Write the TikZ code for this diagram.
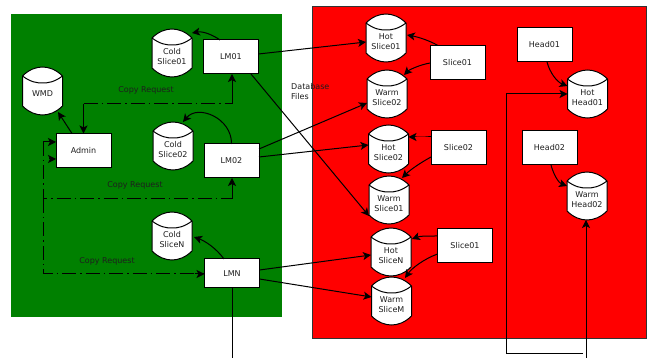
\documentclass[tikz,border=0pt]{standalone}
\usepackage{fontspec}
\setmainfont{DejaVu Sans}
\usetikzlibrary{arrows.meta}
\definecolor{zonegreen}{RGB}{0,128,0}
\definecolor{inkgray}{RGB}{30,30,30}
\tikzset{
  boxnode/.style={draw=black,fill=white,line width=1pt,minimum width=55pt,minimum height=34pt,inner sep=0pt,outer sep=0pt,font=\fontsize{8}{10}\selectfont,text=inkgray},
  cylbox/.style={minimum width=40pt,minimum height=48pt,inner sep=0pt,outer sep=0pt},
  cylline/.style={draw=black,fill=white,line width=1pt},
  cyltext/.style={align=center,inner sep=0pt,font=\fontsize{8}{10}\selectfont,text=inkgray},
  labeltext/.style={align=left,inner sep=0pt,font=\fontsize{8}{10}\selectfont,text=inkgray},
  link/.style={draw=black,line width=1pt,-{Stealth[length=8pt,width=8pt,inset=2pt]}},
  plainlink/.style={draw=black,line width=1pt},
  request/.style={draw=black,line width=1pt,dash pattern=on 14pt off 4pt on 1.5pt off 4pt},
  tiplink/.style={link}
}
\newcommand\dbcyl[5][4]{%
  \node[cylbox] (#2) at (#3,#4) {};
  \begin{scope}[shift={(#3,#4)}]
    \draw[cylline] (-20,-15) .. controls (-14,-21) and (-7,-24) .. (0,-24)
      .. controls (7,-24) and (14,-21) .. (20,-15) -- (20,15)
      .. controls (14,21) and (7,24) .. (0,24)
      .. controls (-7,24) and (-14,21) .. (-20,15) -- cycle;
    \draw[cylline,fill=none] (-20,-15) .. controls (-12,-9) and (-6,-8) .. (0,-8)
      .. controls (6,-8) and (12,-9) .. (20,-15);
    \node[cyltext] (#2-t) at (0,#1) {#5};
  \end{scope}}
\begin{document}
\begin{tikzpicture}[x=1pt,y=-1pt]
\useasboundingbox (0,0) rectangle (649,358);
\fill[white] (0,0) rectangle (649,358);
\path[fill=zonegreen] (10.5,14.5) rectangle (281.5,317.5);
\path[fill=red,draw=black!80,line width=1pt] (312.5,6.5) rectangle (646.5,339);

\dbcyl{cold1}{172}{53}{Cold\\Slice01}
\dbcyl[3]{wmd}{42.5}{91}{WMD}
\dbcyl{cold2}{173}{146}{Cold\\Slice02}
\dbcyl{coldn}{172}{236}{Cold\\SliceN}
\dbcyl{hot1}{386}{38}{Hot\\Slice01}
\dbcyl{warm2}{387}{94}{Warm\\Slice02}
\dbcyl{hot2}{388.5}{149}{Hot\\Slice02}
\dbcyl{warm1}{389}{200}{Warm\\Slice01}
\dbcyl{hotn}{391}{252}{Hot\\SliceN}
\dbcyl{warmm}{391.5}{301}{Warm\\SliceM}
\dbcyl{hothead}{587.5}{94}{Hot\\Head01}
\dbcyl{warmhead}{587}{196}{Warm\\Head02}

\node[boxnode] (lm1) at (231,57) {LM01};
\node[boxnode] (lm2) at (231.5,161) {LM02};
\node[boxnode] (admin) at (83.5,150.5) {Admin};
\node[boxnode,minimum height=29pt] (lmn) at (232,273.5) {LMN};
\node[boxnode] (sa) at (457.5,62.5) {Slice01};
\node[boxnode] (sb) at (458.5,148) {Slice02};
\node[boxnode] (sc) at (465,245.5) {Slice01};
\node[boxnode] (heada) at (544.5,45) {Head01};
\node[boxnode] (headb) at (549.5,148) {Head02};

\node[labeltext] (req1) at (146,90) {Copy Request};
\node[labeltext] (req2) at (135,185) {Copy Request};
\node[labeltext] (req3) at (107,261) {Copy Request};
\node[labeltext,anchor=west] (dbf) at (291,92) {Database\\Files};

% between the zones
\draw[link] ([yshift=3pt]lm1.east) -- ([yshift=-4pt]hot1.west);
\draw[link] ([xshift=20pt]lm1.south) -- ([yshift=-16pt]warm1.west);
\draw[link] ([yshift=12pt]lm2.east) -- ([yshift=-9pt]warm2.west);
\draw[link] ([yshift=4pt]lm2.east) -- ([yshift=4pt]hot2.west);
\draw[link] ([yshift=3.5pt]lmn.east) -- ([yshift=-3pt]hotn.west);
\draw[link] ([yshift=-5.5pt]lmn.east) -- ([yshift=4pt]warmm.west);

% local curves
\draw[link] ([xshift=-11pt]lm1.north) .. controls (213,35) and (203,31) .. ([xshift=20pt,yshift=-4pt]cold1.north);
\draw[link] (lm2.north) .. controls (232,118) and (198,104) .. ([xshift=10pt]cold2.north);
\draw[link] ([xshift=-8pt]lmn.north) .. controls (216,248) and (205,241) .. ([xshift=2pt,yshift=-1pt]coldn.east);
\draw[link] ([xshift=-11.5pt]admin.north) -- ([xshift=15.5pt,yshift=3pt]wmd.south);
\draw[link] ([xshift=-19.5pt]sa.north) .. controls (428,40) and (418,37) .. ([xshift=1pt,yshift=3pt]hot1.east);
\draw[link] ([yshift=-0.5pt]sa.west) .. controls (419,65) and (409,70) .. ([xshift=17pt,yshift=-5pt]warm2.north);
\draw[link] ([yshift=11pt]sb.west) .. controls (424,137) and (416,137) .. ([yshift=12pt]hot2.east);
\draw[link] ([yshift=-9pt]sb.west) .. controls (420,163) and (410,170) .. ([xshift=13pt,yshift=-2pt]warm1.north);
\draw[link] ([yshift=9.5pt]sc.west) .. controls (428,236) and (420,236) .. ([xshift=1pt,yshift=13pt]hotn.east);
\draw[link] ([yshift=-8.5pt]sc.west) .. controls (424,259) and (412,268) .. ([xshift=13.5pt,yshift=-1pt]warmm.north);
\draw[link] ([xshift=2.5pt]heada.south) .. controls (550,73) and (557,82) .. ([yshift=8pt]hothead.west);
\draw[link] ([xshift=1.5pt]headb.south) .. controls (554,176) and (559,183) .. ([yshift=10pt]warmhead.west);

% copy requests
\coordinate (rqa) at (83.5,104);
\coordinate (rqb) at (232,104);
\coordinate (rqc) at (43,142);
\coordinate (rqd) at (43,199);
\coordinate (rqe) at (232,199);
\coordinate (rqf) at (43,159);
\coordinate (rqg) at (43,274);
\draw[request] (rqa) -- (rqb);
\draw[tiplink] (rqa) -- (admin.north);
\draw[tiplink] (rqb) -- (lm1.south -| rqb);
\draw[request] (rqc) -- (rqd) -- (rqe);
\draw[tiplink] (rqe) -- (lm2.south -| rqe);
\draw[tiplink] ([xshift=6pt]rqc) -- (rqc -| admin.west);
\draw[tiplink] ([xshift=6pt]rqf) -- (rqf -| admin.west);
\draw[plainlink] (rqc) -- ([xshift=6pt]rqc);
\draw[request] (rqd) -- (rqg) -- (lmn.west |- rqg);
\draw[tiplink] ([xshift=-10pt]lmn.west |- rqg) -- (lmn.west |- rqg);

% lines leaving the bottom
\coordinate (outa) at (232,358);
\coordinate (outb) at (586,358);
\coordinate (outc) at (583,354);
\coordinate (outd) at (506,354);
\coordinate (oute) at (506,94);
\draw[plainlink] (lmn.south) -- (outa);
\draw[link] (outb) -- (outb |- warmhead.south);
\draw[plainlink] (outc) -- (outd) -- (oute);
\draw[link] (oute) -- (hothead.west);
\end{tikzpicture}
\end{document}
